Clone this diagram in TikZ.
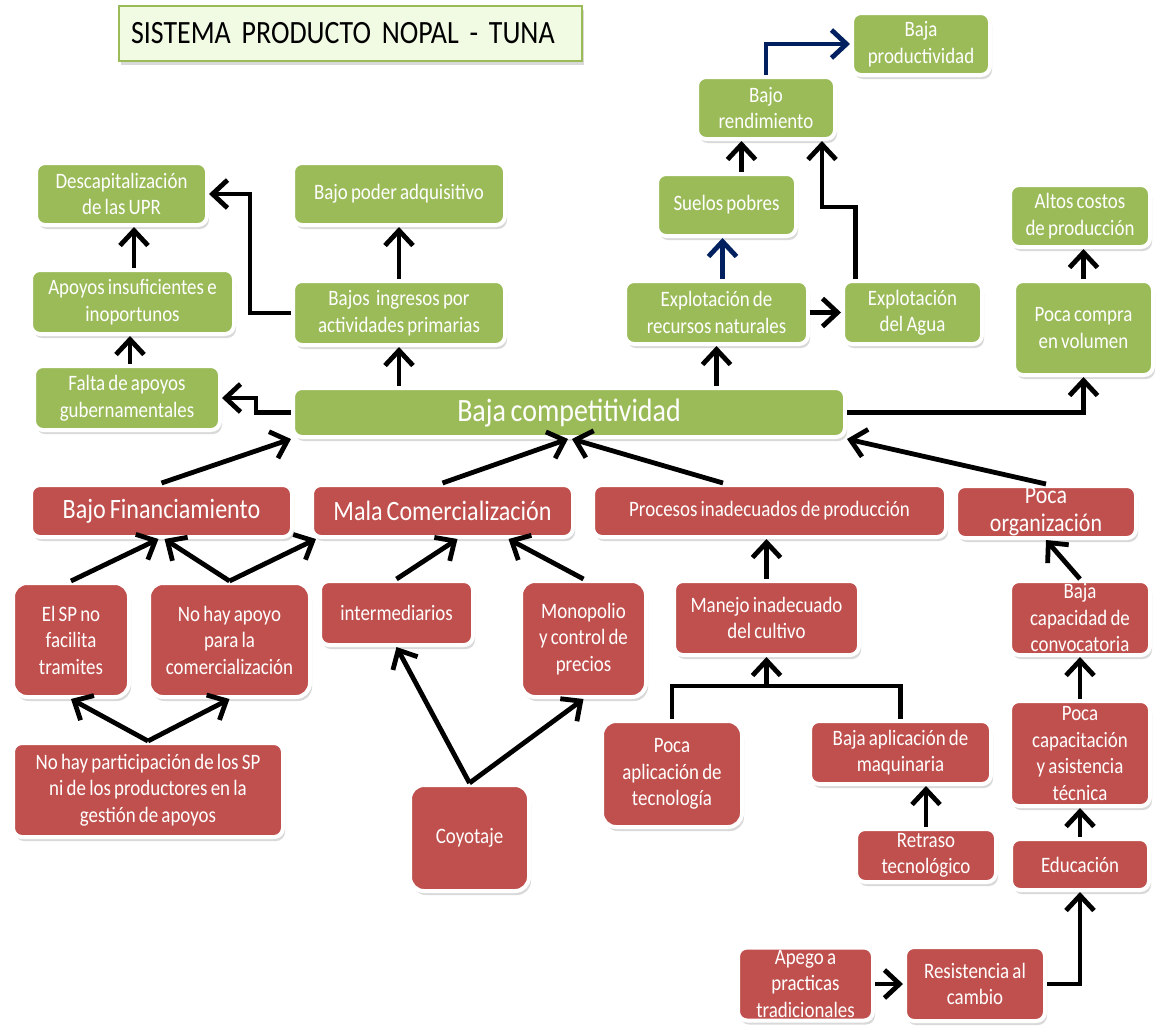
\documentclass[tikz,border=0pt]{standalone}
\usepackage{fontspec}
\setmainfont{Carlito}[FakeStretch=0.86,WordSpace=0.75]
\usetikzlibrary{arrows.meta,shadows,calc}
\definecolor{gfill}{HTML}{9BBB59}
\definecolor{rfill}{HTML}{C0504D}
\definecolor{tfill}{HTML}{F1FAE3}
\definecolor{navy}{HTML}{002060}
\begin{document}
\begin{tikzpicture}[x=1pt,y=-1pt,
  box/.style={rectangle, rounded corners=9pt, draw=white, line width=4pt, text=white,
    align=center, inner sep=0pt, font=\fontsize{22}{26.5}\selectfont,
    drop shadow={shadow xshift=2pt, shadow yshift=-4pt, opacity=0.3}},
  gbox/.style={box, fill=gfill},
  rbox/.style={box, fill=rfill},
  sz/.style 2 args={minimum width={#1+4}, minimum height={#2+4}},
  big/.style={font=\fontsize{28}{30}\selectfont},
  conn/.style={line width=4.8pt, draw=black},
  arr/.style={conn, -{Straight Barb[length=15pt,width=28pt]}},
  barr/.style={arr, draw=navy}
]
\useasboundingbox (0,0) rectangle (1156,1026);

% title
\node[draw=gfill, line width=1.5pt, fill=tfill, minimum width=463, minimum height=55,
  text width=439, inner xsep=12pt, align=left, font=\fontsize{32.5}{34}\selectfont,
  drop shadow={shadow xshift=2pt, shadow yshift=-4pt, opacity=0.3}]
  (title) at (350.5,33.5) {SISTEMA PRODUCTO NOPAL - TUNA};

% green boxes
\node[gbox, sz={167}{58}] (desc) at (121.5,194) {Descapitalización\\de las UPR};
\node[gbox, sz={208}{58}] (poder) at (399,194) {Bajo poder adquisitivo};
\node[gbox, sz={199}{60}] (apoyos) at (132.5,302) {Apoyos insuficientes e\\inoportunos};
\node[gbox, sz={208}{60}] (ingresos) at (399,313) {Bajos\ \ ingresos por\\actividades primarias};
\node[gbox, sz={182}{60}] (falta) at (127,398) {Falta de apoyos\\gubernamentales};
\node[gbox, sz={548}{45}, font=\fontsize{32.5}{34}\selectfont] (bc) at (569,412.5) {Baja competitividad};
\node[gbox, sz={134}{58}] (prodv) at (921,44) {Baja\\productividad};
\node[gbox, sz={134}{58}] (rend) at (766,108) {Bajo\\rendimiento};
\node[gbox, sz={135}{58}] (suelos) at (726.5,205) {Suelos pobres};
\node[gbox, sz={179}{59}] (recursos) at (716.5,312.5) {Explotación de\\recursos naturales};
\node[gbox, sz={135}{59}] (agua) at (912.5,312.5) {Explotación\\del Agua};
\node[gbox, sz={136}{58}] (costos) at (1080,216) {Altos costos\\de producción};
\node[gbox, sz={135}{90}] (compra) at (1083.5,328) {Poca compra\\en volumen};

% red boxes
\node[rbox, big, sz={257}{48}] (bf) at (161.5,511) {Bajo Financiamiento};
\node[rbox, big, sz={257}{48}] (mc) at (442.5,511) {Mala Comercialización};
\node[rbox, sz={349}{48}] (proc) at (769.5,511) {Procesos inadecuados de producción};
\node[rbox, sz={176}{48}, font=\fontsize{25.5}{28}\selectfont] (org) at (1046,512) {Poca\\organización};
\node[rbox, sz={112}{110}, rounded corners=14pt] (elsp) at (71,640) {El SP no\\facilita\\tramites};
\node[rbox, sz={157}{110}, rounded corners=14pt] (nohay) at (229.5,640) {No hay apoyo\\para la\\comercialización};
\node[rbox, sz={149}{60}] (inter) at (396.5,613) {intermediarios};
\node[rbox, sz={121}{112}, rounded corners=14pt] (mono) at (583.5,639) {Monopolio\\y control de\\precios};
\node[rbox, sz={181}{70}] (manejo) at (766.5,618) {Manejo inadecuado\\del cultivo};
\node[rbox, sz={136}{70}] (capac) at (1080,618) {Baja\\capacidad de\\convocatoria};
\node[rbox, sz={266}{90}] (nopart) at (148,790) {No hay participación de los SP\\ni de los productores en la\\gestión de apoyos};
\node[rbox, sz={115}{102}, rounded corners=14pt] (coyo) at (469.5,838) {Coyotaje};
\node[rbox, sz={136}{102}, rounded corners=14pt] (tecno) at (672,774) {Poca\\aplicación de\\tecnología};
\node[rbox, sz={177}{59}] (maq) at (900.5,752.5) {Baja aplicación de\\maquinaria};
\node[rbox, sz={136}{101}] (capt) at (1080,753.5) {Poca\\capacitación\\y asistencia\\técnica};
\node[rbox, sz={136}{49}] (retraso) at (926,855.5) {Retraso\\tecnológico};
\node[rbox, sz={134}{47}] (educ) at (1080,864.5) {Educación};
\node[rbox, sz={131}{69}] (apego) at (805.5,984) {Apego a\\practicas\\tradicionales};
\node[rbox, sz={136}{70}] (resist) at (975,984) {Resistencia al\\cambio};

% connectors, upper part
\draw[arr] (bc.west) -- ++(-35,0) |- (falta.east);
\draw[arr] ([xshift=3pt]falta.north) -- ([xshift=3pt]falta.north |- apoyos.south);
\draw[arr] ([xshift=1.5pt]apoyos.north) -- ([xshift=1.5pt]apoyos.north |- desc.south);
\draw[arr] (ingresos.west) -- ++(-41,0) |- (desc.east);
\draw[arr] (ingresos.north) -- (poder.south);
\draw[arr] (bc.north -| ingresos.south) -- (ingresos.south);
\draw[arr] (bc.north -| recursos.south) -- (recursos.south);
\draw[arr] (recursos.east) -- (agua.west);
\draw[barr] ([xshift=6pt]recursos.north) -- ([xshift=6pt]recursos.north |- suelos.south);
\draw[arr] ([xshift=15pt]suelos.north) -- ([xshift=15pt]suelos.north |- rend.south);
\draw[arr] ([xshift=-57pt]agua.north) -- ++(0,-72) -| ([xshift=56pt]rend.south);
\draw[barr] (rend.north) |- (prodv.west);
\draw[arr] (bc.east) -| (compra.south);
\draw[arr] (compra.north) -- (compra.north |- costos.south);

% connectors into Baja competitividad
\draw[arr] (bf.north) -- (bc.south west);
\draw[arr] (mc.north) -- ([xshift=-1pt]bc.south);
\draw[arr] ([xshift=-46.5pt]proc.north) -- ([xshift=3pt]bc.south);
\draw[arr] (org.north) -- (bc.south east);

% lower left
\draw[arr] (elsp.north) -- ([xshift=-3pt]bf.south);
\draw[arr] (nohay.north) -- ([xshift=3pt]bf.south);
\draw[arr] (nohay.north) -- ([xshift=6pt]mc.south west);
\draw[arr] (inter.north) -- ([xshift=15pt]mc.south);
\draw[arr] (mono.north) -- ([xshift=66pt]mc.south);
\draw[arr] (nopart.north) -- (elsp.south);
\draw[arr] (nopart.north) -- (nohay.south);
\draw[arr] (coyo.north) -- (inter.south);
\draw[arr] (coyo.north) -- (mono.south);

% lower right
\draw[arr] (manejo.north) -- (manejo.north |- proc.south);
\draw[conn] (tecno.north) -- ++(0,-33) coordinate (bl) -| (maq.north);
\draw[arr] (bl -| manejo.south) -- (manejo.south);
\draw[arr] (capac.north) -- (org.south);
\draw[arr] (capt.north) -- (capac.south);
\draw[arr] (retraso.north) -- (retraso.north |- maq.south);
\draw[arr] (educ.north) -- (capt.south);
\draw[arr] (apego.east) -- (resist.west);
\draw[arr] (resist.east) -| (educ.south);
\end{tikzpicture}
\end{document}
